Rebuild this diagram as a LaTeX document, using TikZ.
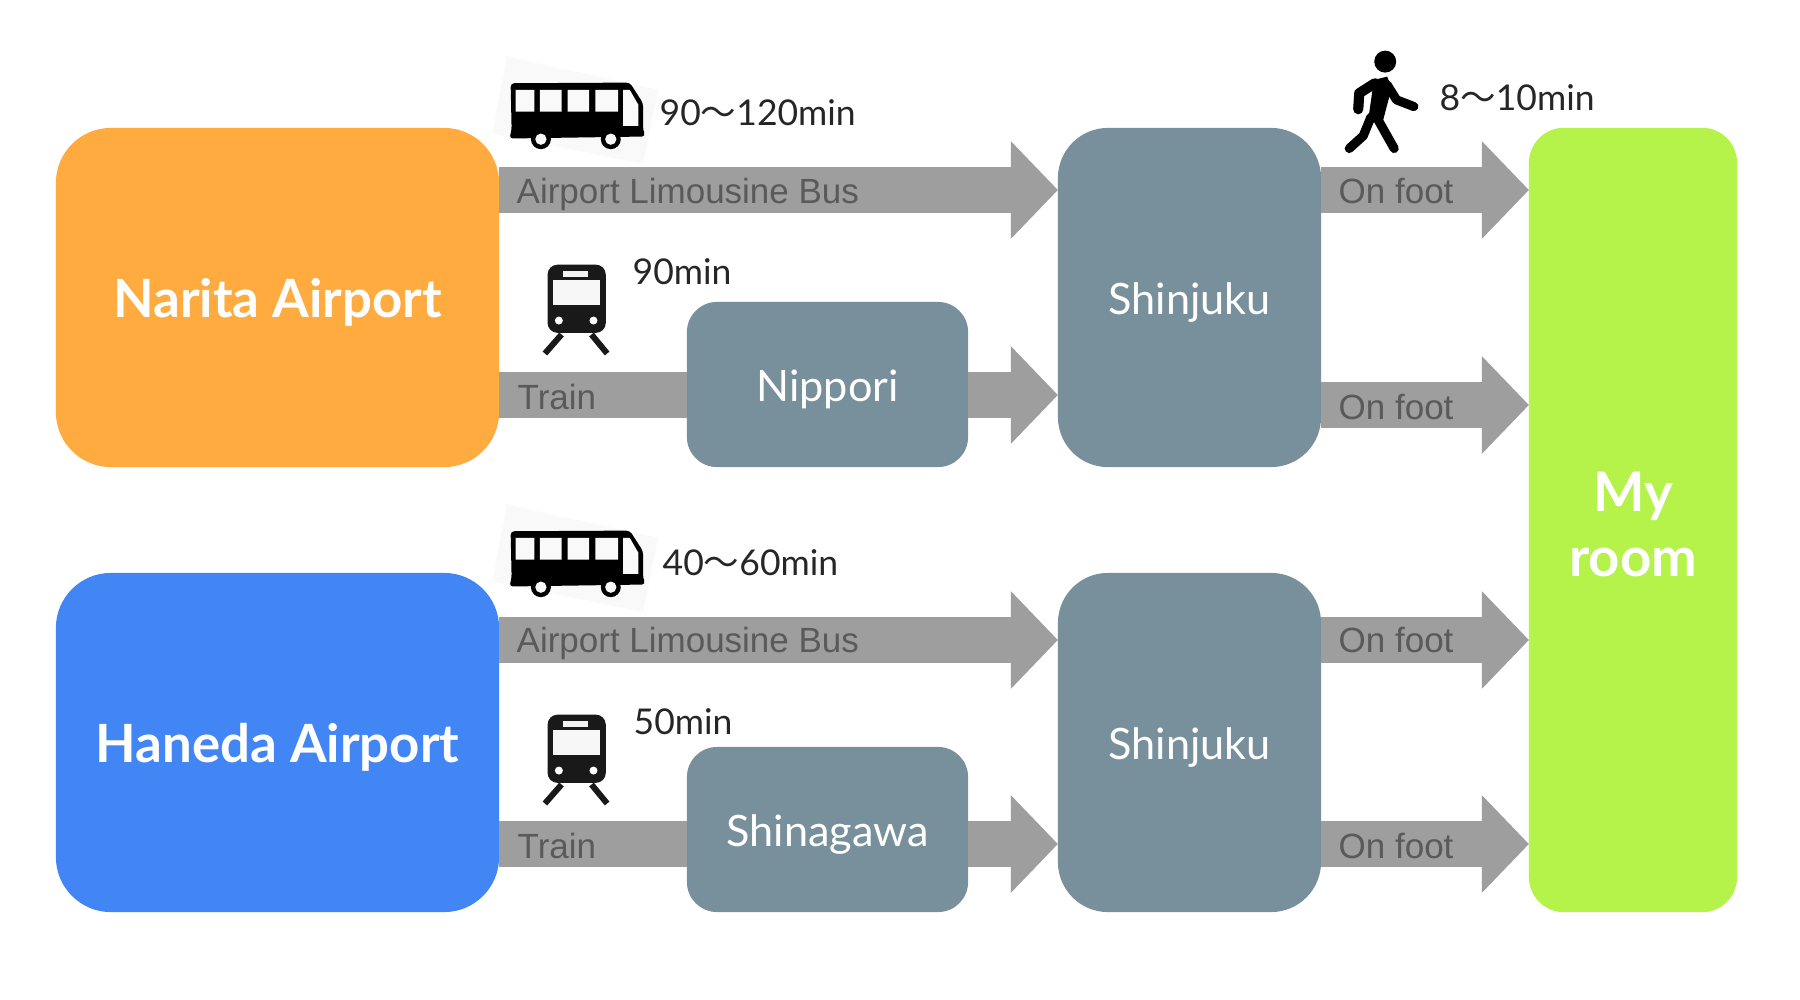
\documentclass[tikz,border=0pt]{standalone}
\usepackage{fontspec}
\setmainfont{Lato}
\newfontfamily\cjk{Noto Sans CJK JP}
\usetikzlibrary{arrows.meta}
\definecolor{narita}{HTML}{FFAB40}
\definecolor{haneda}{HTML}{4285F4}
\definecolor{slate}{HTML}{78909C}
\definecolor{roomgreen}{HTML}{B6F34A}
\definecolor{flowgray}{HTML}{9E9E9E}
\definecolor{flowtext}{HTML}{5A5A5A}
\newcommand{\wv}{{\cjk\char"301C}}
\newcommand{\dn}[1]{\raisebox{-1.3pt}[\height][\depth]{#1}}
\tikzset{
  x=0.01cm,y=-0.01cm,
  place/.style={rounded corners=#1,inner sep=0pt,outer sep=0pt,text=white,align=center},
  airport/.style={place=0.55cm,minimum width=4.43cm,minimum height=3.39cm,font=\fontsize{15}{18}\selectfont\bfseries},
  hub/.style={place=0.5cm,fill=slate,minimum width=2.63cm,minimum height=3.39cm,font=\fontsize{12.3}{15}\selectfont},
  stop/.style={place=0.3cm,fill=slate,minimum width=2.81cm,minimum height=1.65cm,font=\fontsize{12.3}{15}\selectfont},
  flow/.style={draw=flowgray,line width=13.2pt},
  flowhead/.style={flow,-{Triangle[length=13.4pt,width=27pt,fill=flowgray]}},
  flowlabel/.style={anchor=west,inner sep=0pt,text=flowtext,font=\fontsize{9.95}{12}\selectfont\fontspec{Liberation Sans}},
  timelabel/.style={anchor=west,inner sep=0pt,text=black!85,font=\fontsize{10.1}{12}\selectfont},
  pics/bus/.style={code={
    \begin{scope}[x=0.00333cm,y=-0.00333cm]
      \fill[gray!5] (80,50) -- (535,150) -- (490,372) -- (38,280) -- cycle;
      \fill[black,rounded corners=1pt] (92,130) -- (450,128) -- (490,190) -- (490,270) -- (497,290) -- (88,296) -- (95,270) -- cycle;
      \fill[gray!5] (107,150) rectangle (163,215) (180,150) rectangle (245,215)
        (263,150) rectangle (328,215) (347,150) rectangle (415,215);
      \fill[gray!5] (430,150) -- (450,150) -- (476,195) -- (476,258) -- (430,258) -- cycle;
      \fill[black] (183,298) circle (30) (393,298) circle (30);
      \fill[gray!5] (183,298) circle (17) (393,298) circle (17);
    \end{scope}}},
  pics/train/.style={code={
    \begin{scope}[x=0.00333cm,y=-0.00333cm]
      \fill[black!90,rounded corners=0.1cm] (203,675) rectangle (378,880);
      \fill[gray!6] (218,722) rectangle (362,795);
      \fill[gray!10] (250,695) rectangle (325,712);
      \fill[white] (237,843) circle (12) (341,843) circle (12);
      \draw[black!90,line width=1.7pt] (245,885) -- (195,942) (335,885) -- (382,942);
    \end{scope}}},
  pics/walker/.style={code={
    \begin{scope}[x=0.00333cm,y=-0.00333cm,line cap=round,line join=round]
      \fill[black] (256,95) circle (33);
      \fill[black] (222,150) -- (262,140) -- (275,175) -- (250,270) -- (205,270) -- cycle;
      \draw[line width=2.6pt] (262,165) -- (290,210) -- (342,230);
      \draw[line width=2.9pt] (225,160) -- (178,190) -- (175,238);
      \draw[line width=2.6pt] (213,262) -- (190,318) -- (148,356);
      \draw[line width=2.6pt] (230,262) -- (283,356);
    \end{scope}}},
}
\begin{document}
\begin{tikzpicture}
\useasboundingbox (0,0) rectangle (1800,1000);
\fill[white] (0,0) rectangle (1800,1000);

\node[airport,fill=narita] (nar) at (277.5,297.5) {\dn{Narita Airport}};
\node[airport,fill=haneda] (han) at (277.5,742.5) {\dn{Haneda Airport}};
\node[hub] (shj1) at (1189.5,297.5) {\dn{Shinjuku}};
\node[hub] (shj2) at (1189.5,742.5) {\dn{Shinjuku}};
\node[stop] (nip) at (827.5,384.5) {\dn{Nippori}};
\node[stop] (shg) at (827.5,829.5) {\dn{Shinagawa}};
\node[place=0.35cm,fill=roomgreen,minimum width=2.08cm,minimum height=7.84cm,font=\fontsize{15.5}{18.5}\selectfont\bfseries] (room) at (1633,520) {\dn{My}\\\dn{room}};

\coordinate (y1) at (0,190);
\coordinate (y2) at (0,395);
\coordinate (y3) at (0,405);
\coordinate (y4) at (0,640);
\coordinate (y5) at (0,844);

\draw[flowhead] (nar.east |- y1) -- (shj1.west |- y1);
\draw[flow] (nar.east |- y2) -- (nip.west |- y2);
\draw[flowhead] (nip.east |- y2) -- (shj1.west |- y2);
\draw[flowhead] (shj1.east |- y1) -- (room.west |- y1);
\draw[flowhead] (shj1.east |- y3) -- (room.west |- y3);
\draw[flowhead] (han.east |- y4) -- (shj2.west |- y4);
\draw[flow] (han.east |- y5) -- (shg.west |- y5);
\draw[flowhead] (shg.east |- y5) -- (shj2.west |- y5);
\draw[flowhead] (shj2.east |- y4) -- (room.west |- y4);
\draw[flowhead] (shj2.east |- y5) -- (room.west |- y5);

\node[flowlabel] (l1) at (516,194) {Airport Limousine Bus};
\node[flowlabel] (l2) at (517,397) {Train};
\node[flowlabel] (l3) at (1338,191) {On foot};
\node[flowlabel] (l4) at (1338,407) {On foot};
\node[flowlabel] (l5) at (516,643) {Airport Limousine Bus};
\node[flowlabel] (l6) at (517,846) {Train};
\node[flowlabel] (l7) at (1338,640) {On foot};
\node[flowlabel] (l8) at (1338,846) {On foot};

\node[timelabel] (t1) at (659,113) {90\wv120min};
\node[timelabel] (t2) at (632,272) {90min};
\node[timelabel] (t3) at (1439,98) {8\wv10min};
\node[timelabel] (t4) at (662,563) {40\wv60min};
\node[timelabel] (t5) at (633,722) {50min};

\pic at (480,40) {bus};
\pic at (480,488) {bus};
\pic at (480,40) {train};
\pic at (480,490) {train};
\pic at (1300,30) {walker};
\end{tikzpicture}
\end{document}
